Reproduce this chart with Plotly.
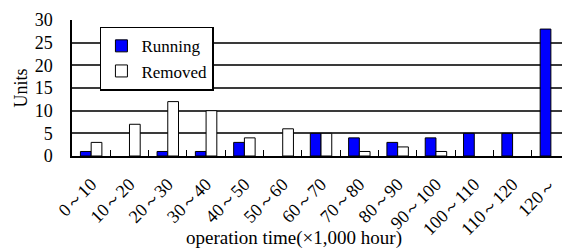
import plotly.graph_objects as go

categories = ["0～10", "10～20", "20～30", "30～40", "40～50", "50～60", "60～70",
              "70～80", "80～90", "90～100", "100～110", "110～120", "120～"]
running = [1, 0, 1, 1, 3, 0, 5, 4, 3, 4, 5, 5, 28]
removed = [3, 7, 12, 10, 4, 6, 5, 1, 2, 1, 0, 0, 0]

FONT = "Liberation Serif, Times New Roman, serif"


def hide_zero(values):
    return [v if v != 0 else None for v in values]


fig = go.Figure()
fig.add_trace(go.Bar(x=categories, y=hide_zero(running), name="Running",
                     marker=dict(color="#0000FF", line=dict(color="black", width=1))))
fig.add_trace(go.Bar(x=categories, y=hide_zero(removed), name="Removed",
                     marker=dict(color="white", line=dict(color="black", width=1))))

fig.update_layout(
    width=562, height=252,
    margin=dict(l=72, r=0, t=20, b=96),
    paper_bgcolor="white", plot_bgcolor="white",
    barmode="group", bargap=0.44, bargroupgap=0,
    font=dict(family=FONT, color="black", size=17),
    showlegend=True,
    legend=dict(x=0.057, y=0.95, xanchor="left", yanchor="top",
                bgcolor="white", bordercolor="black", borderwidth=1.5,
                font=dict(size=17), itemwidth=30, tracegroupgap=0),
    xaxis=dict(range=[-0.5, 12.29], showgrid=False, showline=True, linecolor="black",
               linewidth=1.5, ticks="inside", tickson="boundaries", ticklen=6,
               tickcolor="black", tickangle=-45, tickfont=dict(size=18),
               ticklabelstandoff=9, automargin=False),
    yaxis=dict(range=[0, 30], dtick=5, showgrid=True, gridcolor="#3a3a3a", gridwidth=1.5,
               showline=True, linecolor="black", linewidth=1.5, zeroline=False,
               ticks="", tickfont=dict(size=18), ticklabelstandoff=14,
               title=dict(text="Units", font=dict(size=18), standoff=2),
               automargin=False),
    annotations=[dict(text="operation time(×1,000 hour)", x=0.453, y=-0.51,
                      xref="paper", yref="paper", xanchor="center", yanchor="top",
                      showarrow=False, font=dict(size=19))],
)

fig.write_html("out.html", config={"displayModeBar": False},
               post_script="document.body.style.margin='0';")
